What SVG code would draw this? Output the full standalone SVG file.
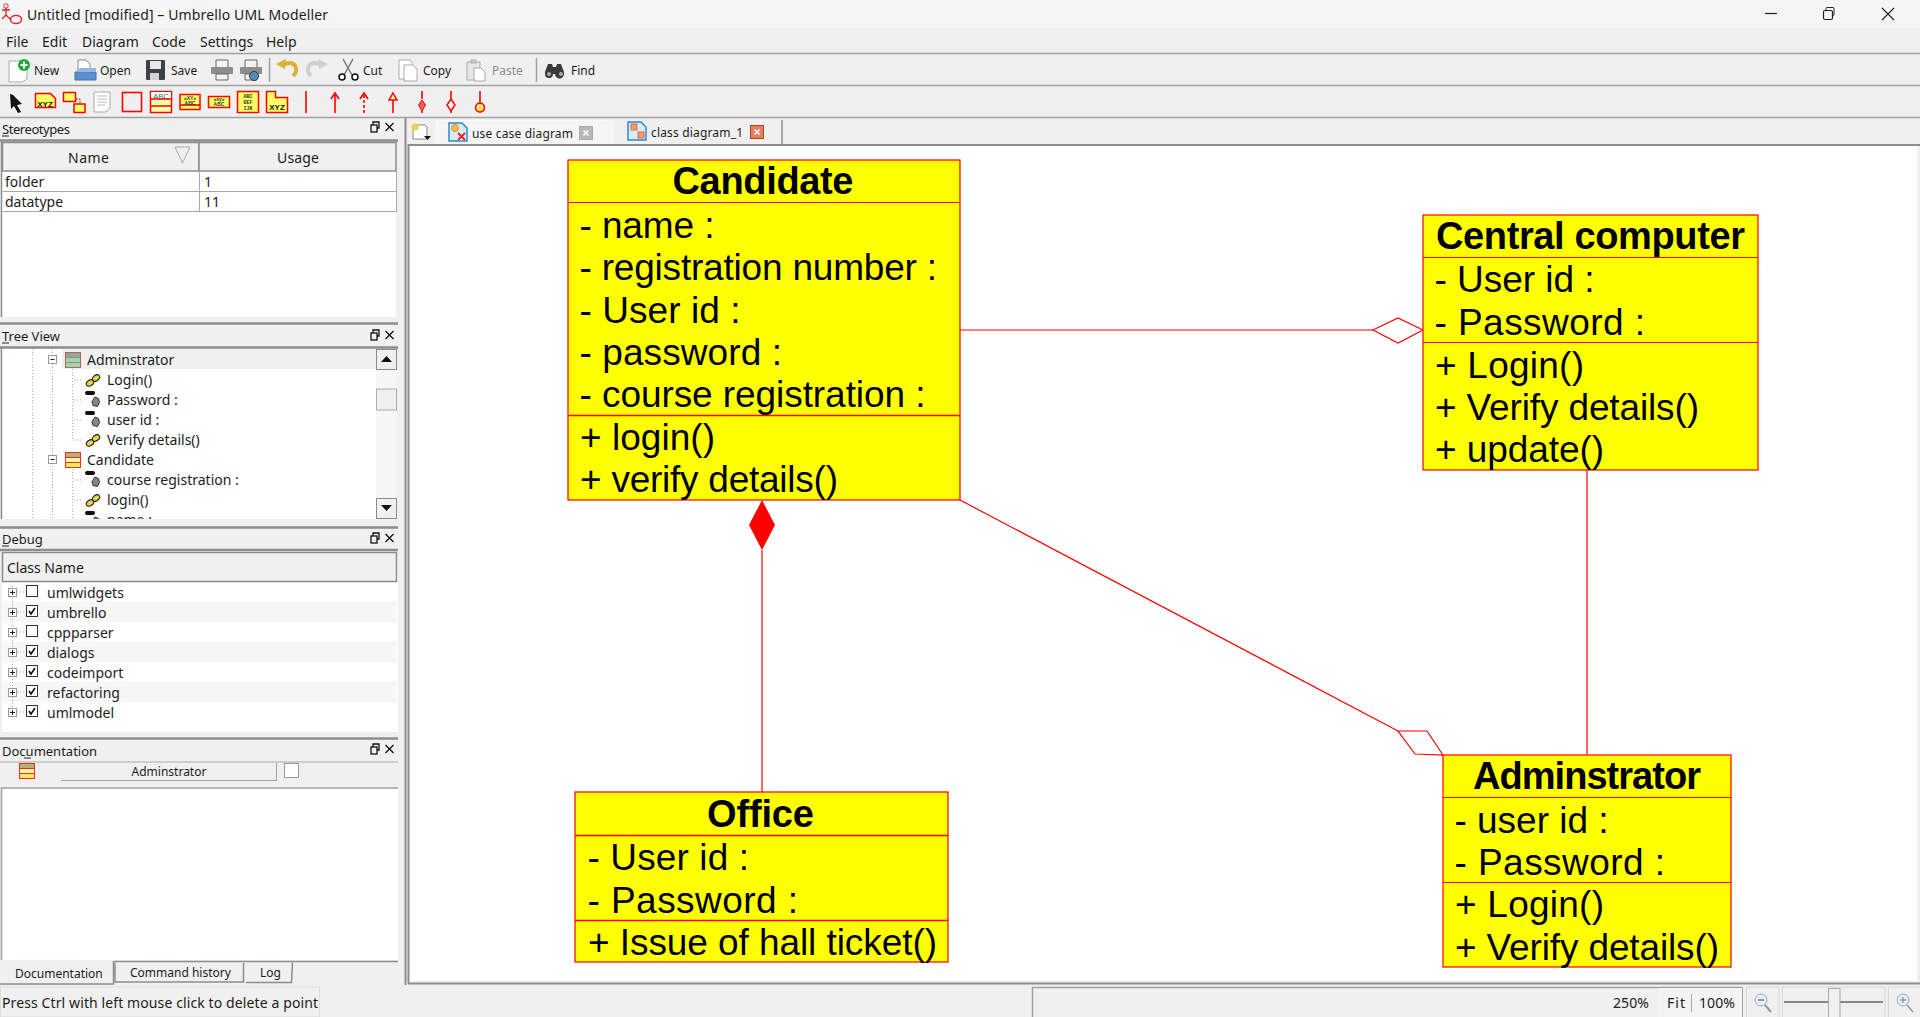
<svg xmlns="http://www.w3.org/2000/svg" width="1920" height="1017" viewBox="0 0 1920 1017">
<style>
text{font-family:"Noto Sans","Open Sans",sans-serif;fill:#1c1c1c;font-size:14px}
.tb{font-size:12px}
.pt{font-size:13px}
.sep{stroke:#a0a0a0;stroke-width:1.5;fill:none}
.thick{stroke:#8c8c8c;stroke-width:2.5;fill:none}
.box{fill:#ffff00;stroke:#ff0000;stroke-width:1.2}
.div{stroke:#ff0000;stroke-width:1;fill:none}
.nt,.na{font-family:"Liberation Sans",Arial,sans-serif;fill:#000}
.nt{font-weight:700;font-size:38px;text-anchor:middle}
.na{font-size:37px}
.con{stroke:#ff0000;stroke-width:1.2;fill:none}
.ic{stroke:#ff0000;stroke-width:1.5;fill:#ffff66}
.r{stroke:#ff0000;stroke-width:1.6;fill:none}
.hdr{fill:#f0f0f0;stroke:#8c8c8c;stroke-width:1.5}
.dot{stroke:#a8a8a8;stroke-width:1;stroke-dasharray:1 2;fill:none}
.cb{fill:#fff;stroke:#333;stroke-width:1}
.ck{stroke:#111;stroke-width:1.6;fill:none}
.xp{fill:#fff;stroke:#9a9a9a;stroke-width:1}
.xs{stroke:#222;stroke-width:1;fill:none}
.pan{stroke:#111;stroke-width:1.3;fill:none}
.lnk{fill:#e8d840;stroke:#222;stroke-width:1.100}
.tiny{font-family:"Liberation Sans",sans-serif;font-weight:700;font-size:5px;fill:#333;text-anchor:middle}
.mono{font-family:"Liberation Mono",monospace;font-weight:700;font-size:5px;fill:#333;text-anchor:middle}
.xyz{font-family:"Liberation Sans",sans-serif;font-weight:700;font-size:8px;fill:#111;text-anchor:middle}
</style>
<defs>
<g id="op"><path d="M4.500 9.500l5-4" stroke="#222" stroke-width="1.500"/><ellipse class="lnk" cx="4" cy="9" rx="4" ry="2.800" transform="rotate(-35 4 9)"/><ellipse class="lnk" cx="10" cy="4" rx="4" ry="2.800" transform="rotate(-35 10 4)"/></g>
<g id="at"><rect x="0" y="0" width="10" height="4" rx="2" fill="#1a0808"/><path d="M10 6l3.500 1.500 1 4-2 4-4.500-1-1-4z" fill="#85858f" stroke="#333" stroke-width="1"/></g>
<g id="cl"><rect x=".5" y=".5" width="15" height="15" fill="#fff8a8" stroke="#f03020"/><rect x="1" y="1" width="14" height="4" fill="#b8b070"/><rect x="1" y="11" width="14" height="4" fill="#ffe860"/><path d="M.5 5.500h15M.5 10.500h15" stroke="#f03020"/></g>
<g id="clg"><rect x=".5" y=".5" width="15" height="15" fill="#a0d4b0" stroke="#b86060"/><rect x="1" y="1" width="14" height="4" fill="#8ea89a"/><path d="M1 5.500h14M1 10.500h14" stroke="#b86060" stroke-width=".7"/></g>
<g id="pb" class="pan"><rect x="371" y="125" width="6" height="7"/><path d="M373 125v-3h6v6h-2"/><path d="M385.500 123l8 8M393.500 123l-8 8"/></g>
</defs>
<rect width="1920" height="1017" fill="#f0f0f0"/>
<g id="window">
<rect width="1920" height="28" fill="#f5f5f5"/>
<ellipse cx="16" cy="19.500" rx="5.500" ry="4" fill="#fff" stroke="#e22" stroke-width="1.500"/>
<path d="M6 8v7M2 10h8M2 19l4-4 4 4" stroke="#d22" stroke-width="1.300" fill="none"/>
<circle cx="6" cy="6" r="2.200" fill="#fff" stroke="#d22"/>
<text x="27" y="20" textLength="301">Untitled [modified] – Umbrello UML Modeller</text>
<path d="M1765 13.500h12" stroke="#222" stroke-width="1.200"/>
<rect x="1823.500" y="10.500" width="9" height="9" rx="1.500" fill="none" stroke="#222" stroke-width="1.200"/><path d="M1826 10v-1.500q0-1 1-1h6q1 0 1 1v6q0 1-1 1h-1" fill="none" stroke="#222"/>
<path d="M1882 8l12 12M1894 8l-12 12" stroke="#222" stroke-width="1.200"/>
<text x="6" y="47">File</text><text x="42" y="47">Edit</text><text x="82" y="47">Diagram</text><text x="152" y="47">Code</text><text x="200" y="47">Settings</text><text x="266" y="47">Help</text>
<path class="sep" d="M0 53.500h1920M0 85.500h1920M0 117.500h1920"/>
</g>
<g id="toolbar-main">
<path d="M9 61h13l5 5v13l-5 3h-13z" fill="#fff" stroke="#aaa"/><circle cx="24" cy="65" r="6" fill="#22a83a"/><path d="M24 61.500v7M20.500 65h7" stroke="#fff" stroke-width="2"/>
<text class="tb" x="34" y="75">New</text>
<path d="M75 72h21v8h-21z" fill="#5b8fd0" stroke="#47709f"/><path d="M78 72v-12h8l4 4v8z" fill="#fff" stroke="#7a8aa0"/><path d="M75 72l5-4h16v4z" fill="#90b8e8"/>
<text class="tb" x="100" y="75">Open</text>
<rect x="146" y="60" width="19" height="20" rx="1" fill="#3d4148"/><rect x="150" y="61" width="11" height="8" fill="#e8e8e8"/><rect x="150" y="73" width="9" height="7" fill="#cfd2d6"/>
<text class="tb" x="171" y="75">Save</text>
<path d="M216 60h12v8h-12z" fill="#f4f4f4" stroke="#666"/><rect x="211" y="67" width="22" height="7" rx="1" fill="#8d8d8d"/><path d="M216 74h12v6h-12z" fill="#f4f4f4" stroke="#666"/>
<path d="M245 60h12v8h-12z" fill="#f4f4f4" stroke="#666"/><rect x="240" y="67" width="22" height="7" rx="1" fill="#8d8d8d"/><path d="M245 74h12v6h-12z" fill="#f4f4f4" stroke="#666"/><circle cx="254" cy="76" r="4.500" fill="#5a89b8" stroke="#334"/>
<path class="sep" d="M269.500 58v24M536.500 58v24"/>
<path d="M282 65q12-5 14 3 1 4-3 8" fill="none" stroke="#dfb030" stroke-width="4"/><path d="M276 64l10-5-1 10z" fill="#dfb030"/>
<path d="M322 65q-12-5-14 3-1 4 3 8" fill="none" stroke="#cfcfcf" stroke-width="4"/><path d="M328 64l-10-5 1 10z" fill="#cfcfcf"/>
<path d="M343 59l9 16M353 59l-9 16" stroke="#777" stroke-width="1.500" fill="none"/><circle cx="342" cy="77" r="3" fill="#fff" stroke="#111" stroke-width="1.500"/><circle cx="355" cy="77" r="3" fill="#fff" stroke="#111" stroke-width="1.500"/>
<text class="tb" x="363" y="75">Cut</text>
<path d="M399 60h11l2 2v17h-13z" fill="#fff" stroke="#aaa"/><path d="M404 65h9l4 4v12h-13z" fill="#fff" stroke="#aaa"/>
<text class="tb" x="423" y="75">Copy</text>
<path d="M467 62h13v18h-13z" fill="#e8e8e8" stroke="#aaa"/><path d="M471 60h5v3h-5z" fill="#ccc" stroke="#aaa"/><path d="M474 68h7l4 4v9h-11z" fill="#fff" stroke="#aaa"/>
<text class="tb" x="492" y="75" style="fill:#8c8c8c">Paste</text>
<path d="M545 72l3-8h4l1 3h3l1-3h4l3 8v2a4 4 0 0 1-9 0h-2a4 4 0 0 1-8 0z" fill="#3a3a3a"/><circle cx="549" cy="74" r="2" fill="#aaa"/><circle cx="561" cy="74" r="2" fill="#aaa"/>
<text class="tb" x="571" y="75">Find</text>
</g>
<g id="toolbar-diagram">
<path d="M10 94l3 1 9 9-5 1 4 7-3 1-4-7-3 3z" fill="#111"/>
<path d="M35.500 93.500h15l5 5v9h-20z" class="ic"/><text class="xyz" x="45" y="107">XYZ</text>
<rect x="63.500" y="92.500" width="12" height="9" class="ic"/><rect x="74" y="104" width="11" height="8.500" class="ic"/><path d="M76 99h4v5" stroke="#f00" stroke-dasharray="2 1" fill="none"/>
<path d="M94 92h16v16l-4 4h-12z" fill="#fff" stroke="#aaa"/><path d="M97 96h10M97 99h10M97 102h10M97 105h8" stroke="#bbb"/>
<rect x="122.500" y="92.500" width="19" height="19" fill="#fff" class="r"/>
<rect x="150.500" y="91.500" width="21" height="21" fill="#ffffa8" stroke="#f00" stroke-width="1.500"/><rect x="151" y="92" width="20" height="7" fill="#fff"/><path class="r" d="M150 99h22M150 106h22"/><text x="161" y="98.500" text-anchor="middle" style="font:7.500px 'Liberation Sans',sans-serif;fill:#555">ABC</text>
<rect x="180" y="94.500" width="20" height="15" class="ic"/><path class="r" d="M180 105h20"/><rect x="208.500" y="96.500" width="21" height="11" class="ic"/>
<text class="tiny" x="190" y="99.500">«XY»</text><text class="tiny" x="190" y="104.500">ABC</text>
<text class="tiny" x="219" y="106">ABC</text><text class="tiny" x="219" y="101">«xy»</text>
<rect x="237.500" y="91.500" width="21" height="21" class="ic"/><text class="mono" x="248" y="98">ABC</text><text class="mono" x="248" y="104">DEF</text><text class="mono" x="248" y="110">IJK</text>
<path class="ic" d="M266.500 97.500v-6h9v6h12v15h-21z"/><text class="xyz" x="277" y="110">XYZ</text>
<path class="r" d="M306 91v22"/>
<path class="r" d="M335 113v-20M331 99l4-6 4 6"/>
<path class="r" d="M364 113v-20" stroke-dasharray="3 2"/><path class="r" d="M360 99l4-6 4 6"/>
<path class="r" d="M393 113v-14"/><path d="M393 93l4 7h-8z" fill="#fff59a" stroke="#f00" stroke-width="1.500"/>
<path d="M422 91v8M422 110v3" class="r"/><path d="M422 100l3.500 5-3.500 6-3.500-6z" fill="#ff5a5a" stroke="#f00"/>
<path d="M451 91v8M451 110v3" class="r"/><path d="M451 99l4 6-4 6-4-6z" fill="#fff" stroke="#f00" stroke-width="1.500"/>
<path class="r" d="M480 91v12"/><circle cx="480" cy="107.500" r="4.500" fill="#ffdf60" stroke="#f00" stroke-width="1.500"/>
</g>
<g id="panel-stereotypes">
<text class="pt" x="2" y="134" textLength="68">Stereotypes</text><path d="M2 136h7" stroke="#222"/>
<rect x="2" y="141" width="394" height="176" fill="#fff"/>
<path class="thick" d="M0 140.500h398"/>
<rect x="2.500" y="142.500" width="196.500" height="28.500" class="hdr"/><rect x="199" y="142.500" width="197" height="28.500" class="hdr"/>
<path d="M175 147h15l-7.500 16z" fill="none" stroke="#a8a8a8"/>
<text x="88.500" y="163" text-anchor="middle" textLength="41">Name</text><text x="298" y="163" text-anchor="middle" textLength="42">Usage</text>
<path d="M2.500 191.500h394M2.500 211.500h394M199.500 171v41M396.500 171v41" stroke="#a8a8a8" fill="none"/>
<path d="M1.500 141v176" stroke="#8c8c8c" stroke-width="1.500"/>
<text x="5" y="187">folder</text><text x="204" y="187">1</text><text x="5" y="207">datatype</text><text x="204" y="207">11</text>
<path class="thick" d="M0 323.500h398"/>
</g>
<g id="panel-tree">
<text class="pt" x="2" y="341" textLength="58">Tree View</text><path d="M2 343h7" stroke="#222"/>
<rect x="2" y="348" width="374" height="171" fill="#fff"/>
<path class="thick" d="M0 347.500h398"/>
<path d="M1.500 348v171" stroke="#8c8c8c" stroke-width="1.500"/>
<rect x="62" y="349" width="314" height="20" fill="#f0f0f0"/>
<path class="dot" d="M32.500 349v170M52.500 349v170M72.500 369v72M72.500 469v50M74 380h9M74 400h9M74 420h9M74 440h9M74 480h9M74 500h9"/>
<rect x="48.500" y="355.500" width="8" height="8" class="xp"/><path class="xs" d="M50.500 359.500h4"/>
<rect x="48.500" y="455.500" width="8" height="8" class="xp"/><path class="xs" d="M50.500 459.500h4"/>
<use href="#clg" x="65" y="352"/>
<use href="#cl" x="65" y="452"/>
<use href="#op" x="86" y="374"/><use href="#at" x="85" y="391"/><use href="#at" x="85" y="411"/><use href="#op" x="86" y="434"/>
<use href="#at" x="85" y="471"/><use href="#op" x="86" y="494"/>
<text x="87" y="365">Adminstrator</text><text x="107" y="385">Login()</text><text x="107" y="405">Password :</text><text x="107" y="425">user id :</text><text x="107" y="445">Verify details()</text><text x="87" y="465">Candidate</text><text x="107" y="485">course registration :</text><text x="107" y="505">login()</text>
<text x="107" y="525">name :</text>
<use href="#at" x="85" y="511"/>
<rect x="0" y="519" width="398" height="8" fill="#f0f0f0"/>
<rect x="376" y="349" width="21" height="170" fill="#f6f6f6"/>
<rect x="376.500" y="349.500" width="20" height="20" fill="#f0f0f0" stroke="#8c8c8c"/><path d="M381 362h11l-5.500-6z" fill="#111"/>
<rect x="376.500" y="389" width="20" height="21" fill="#f0f0f0" stroke="#aaa"/>
<rect x="376.500" y="498.500" width="20" height="20" fill="#f0f0f0" stroke="#8c8c8c"/><path d="M381 505h11l-5.500 6z" fill="#111"/>
<path class="thick" d="M0 527.500h398"/>
</g>
<g id="panel-debug">
<text class="pt" x="2" y="544">Debug</text><path d="M2 546h7" stroke="#222"/>
<rect x="2" y="551" width="396" height="181" fill="#fff"/>
<path class="thick" d="M0 550h398"/>
<rect x="2.500" y="552.500" width="394" height="29" class="hdr"/>
<text x="7" y="573">Class Name</text>
<rect x="2" y="602" width="394" height="20" fill="#f7f7f7"/><rect x="2" y="642" width="394" height="20" fill="#f7f7f7"/><rect x="2" y="682" width="394" height="20" fill="#f7f7f7"/>
<path class="dot" d="M12.500 586v130M17 592h8M17 612h8M17 632h8M17 652h8M17 672h8M17 692h8M17 712h8"/>
<rect x="8.500" y="588.500" width="8" height="8" class="xp"/><rect x="8.500" y="608.500" width="8" height="8" class="xp"/><rect x="8.500" y="628.500" width="8" height="8" class="xp"/><rect x="8.500" y="648.500" width="8" height="8" class="xp"/><rect x="8.500" y="668.500" width="8" height="8" class="xp"/><rect x="8.500" y="688.500" width="8" height="8" class="xp"/><rect x="8.500" y="708.500" width="8" height="8" class="xp"/>
<path class="xs" d="M10 592.500h5M12.500 590v5M10 612.500h5M12.500 610v5M10 632.500h5M12.500 630v5M10 652.500h5M12.500 650v5M10 672.500h5M12.500 670v5M10 692.500h5M12.500 690v5M10 712.500h5M12.500 710v5"/>
<rect x="26.500" y="585.500" width="11" height="11" class="cb"/><rect x="26.500" y="605.500" width="11" height="11" class="cb"/><rect x="26.500" y="625.500" width="11" height="11" class="cb"/><rect x="26.500" y="645.500" width="11" height="11" class="cb"/><rect x="26.500" y="665.500" width="11" height="11" class="cb"/><rect x="26.500" y="685.500" width="11" height="11" class="cb"/><rect x="26.500" y="705.500" width="11" height="11" class="cb"/>
<path class="ck" d="M29 611l2 3 4-6M29 651l2 3 4-6M29 671l2 3 4-6M29 691l2 3 4-6M29 711l2 3 4-6"/>
<text x="47" y="598">umlwidgets</text><text x="47" y="618">umbrello</text><text x="47" y="638">cppparser</text><text x="47" y="658">dialogs</text><text x="47" y="678">codeimport</text><text x="47" y="698">refactoring</text><text x="47" y="718">umlmodel</text>
<path class="thick" d="M0 738.500h398"/>
</g>
<g id="panel-documentation">
<text class="pt" x="2" y="756">Documentation</text><path d="M24 758h7" stroke="#222"/>
<path d="M0 762h398" stroke="#aaa"/>
<use href="#cl" x="19" y="763"/>
<path d="M61 780.500h216M276.500 763v18" stroke="#a0a0a0" fill="none"/>
<text x="169" y="776" text-anchor="middle" class="tb">Adminstrator</text>
<rect x="284.500" y="763.500" width="14" height="14" fill="#fff" stroke="#999"/>
<rect x="2" y="788" width="396" height="172" fill="#fff"/>
<path class="sep" d="M1.500 788v172M1 788h397"/>
<path d="M114 961.500h284" stroke="#8c8c8c" stroke-width="1.500"/>
<path d="M0 984h113.500v-23" stroke="#8c8c8c" stroke-width="1.500" fill="none"/>
<path d="M115 963v19h128.500v-19M246 982.500h45.500l1-20" stroke="#8c8c8c" stroke-width="1.500" fill="none"/>
<text class="tb" x="15" y="978">Documentation</text><text class="tb" x="130" y="977">Command history</text><text class="tb" x="260" y="977">Log</text>
</g>
<g id="panel-buttons">
<use href="#pb"/><use href="#pb" y="208"/><use href="#pb" y="411"/><use href="#pb" y="622"/>
</g>
<g id="tabs">
<path d="M405.500 118v867" stroke="#8c8c8c" stroke-width="2"/>
<rect x="436.500" y="120.500" width="175.500" height="24" fill="#f5f5f5" stroke="#fafafa"/>
<path d="M782 120v24" stroke="#8c8c8c" stroke-width="1.500"/>
<path d="M413 125h12l2 2v12h-14z" fill="#fff" stroke="#888"/><circle cx="415" cy="127" r="3.500" fill="#f0d040"/><path d="M424 136h7l-3.500 4z" fill="#111"/>
<path d="M449 123h13l5 5v13h-18z" fill="#d8ecf8" stroke="#2a8bd0" stroke-width="1.500"/><circle cx="455" cy="128" r="3.500" fill="#f0c040" stroke="#e84"/><path d="M458 133l7 7M465 133l-7 7" stroke="#e22" stroke-width="1.800"/>
<text class="tb" x="472" y="138" textLength="101">use case diagram</text>
<rect x="579.500" y="126.500" width="13" height="13" fill="#b8b8b8" stroke="#aaa"/><path d="M583.500 130.500l5 5M588.500 130.500l-5 5" stroke="#fff" stroke-width="1.500"/>
<path d="M628 122h13l5 5v13h-18z" fill="#d8ecf8" stroke="#2a8bd0" stroke-width="1.500"/><rect x="631" y="124" width="6" height="6" fill="#f0a060" stroke="#d66"/><rect x="638" y="132" width="6" height="6" fill="#f0a060" stroke="#d66"/>
<text class="tb" x="651" y="137" textLength="92">class diagram_1</text>
<rect x="750.500" y="125.500" width="13" height="13" fill="#e08060" stroke="#c04020"/><path d="M754.500 129.500l5 5M759.500 129.500l-5 5" stroke="#fff" stroke-width="1.500"/>
</g>
<g id="canvas">
<rect x="409" y="146" width="1508" height="837" fill="#fff"/>
<path d="M408.500 983.500v-838.500h1511.500M408 983.500h1512" stroke="#8c8c8c" stroke-width="2" fill="none"/>
<path d="M409 981.500h1508" stroke="#e8e8e8"/>
</g>
<g id="connectors">
<path class="con" d="M960 330H1373"/>
<path class="con" d="M1373 330L1398 318L1423 330L1398 343Z" fill="#fff"/>
<path class="con" d="M1587 470V755"/>
<path class="con" d="M762 550V792"/>
<path d="M762 500L775 525L762 550L749 525Z" fill="#ff0000"/>
<path class="con" d="M960 500L1398 731"/>
<path class="con" d="M1398 731L1427 731L1443 755L1415 754Z"/>
</g>
<g id="node-candidate">
<rect class="box" x="568" y="160" width="392" height="340"/>
<path class="div" d="M568 202.500h392"/><path class="div" d="M568 415.500h392" style="stroke-width:1.500"/>
<text class="nt" x="763" y="194" textLength="181">Candidate</text>
<text class="na" x="579.500" y="237.500" textLength="135">- name :</text><text class="na" x="579.500" y="280" textLength="357.500">- registration number :</text><text class="na" x="579.500" y="323" textLength="161">- User id :</text><text class="na" x="579.500" y="365" textLength="202.500">- password :</text><text class="na" x="579.500" y="407" textLength="346">- course registration :</text>
<text class="na" x="580" y="450" textLength="135">+ login()</text><text class="na" x="580" y="492" textLength="258">+ verify details()</text>
</g>
<g id="node-central-computer">
<rect class="box" x="1423" y="215" width="335" height="255"/>
<path class="div" d="M1423 257.500h335M1423 342.500h335"/>
<text class="nt" x="1590.500" y="249" textLength="309">Central computer</text>
<text class="na" x="1434.500" y="292" textLength="160">- User id :</text><text class="na" x="1434.500" y="335" textLength="210.500">- Password :</text><text class="na" x="1435" y="378" textLength="149">+ Login()</text><text class="na" x="1435" y="420" textLength="264">+ Verify details()</text><text class="na" x="1435" y="462" textLength="169">+ update()</text>
</g>
<g id="node-office">
<rect class="box" x="575" y="792" width="373" height="170"/>
<path class="div" d="M575 835.500h373M575 920.500h373" style="stroke-width:1.500"/>
<text class="nt" x="760.500" y="827" textLength="107">Office</text>
<text class="na" x="587.500" y="870" textLength="161.500">- User id :</text><text class="na" x="587.500" y="913" textLength="210.500">- Password :</text><text class="na" x="588" y="954.500" textLength="349">+ Issue of hall ticket()</text>
</g>
<g id="node-adminstrator">
<rect class="box" x="1443" y="755" width="288" height="212"/>
<path class="div" d="M1443 797.500h288M1443 882.500h288"/>
<text class="nt" x="1587" y="789" textLength="228">Adminstrator</text>
<text class="na" x="1454.500" y="832.500" textLength="154">- user id :</text><text class="na" x="1454.500" y="875" textLength="210.500">- Password :</text><text class="na" x="1455" y="917" textLength="149">+ Login()</text><text class="na" x="1455" y="960" textLength="264">+ Verify details()</text>
</g>
<g id="statusbar">
<rect x="0.500" y="987" width="319" height="30" fill="#f0f0f0" stroke="#dcdcdc"/>
<text x="2" y="1008" textLength="316">Press Ctrl with left mouse click to delete a point</text>
<path d="M1032.500 1017v-29.500h710" stroke="#a0a0a0" stroke-width="1.500" fill="none"/>
<path d="M1742.500 988v29" stroke="#a0a0a0"/>
<text x="1613" y="1008" textLength="36">250%</text>
<rect x="1659" y="988" width="83" height="29" fill="#f3f3f3"/><path d="M1691.500 994v18" stroke="#aaa"/>
<text x="1667" y="1008" textLength="18">Fit</text><text x="1699" y="1008" textLength="36">100%</text>
<path d="M1746.500 1017v-30h32.500v30M1782.500 1017v-30h102.500v30M1888.500 1017v-30h31" stroke="#d8d8d8" fill="none"/>
<circle cx="1761" cy="1000" r="6" fill="#e8eef4" stroke="#9ab"/><path d="M1758 1000h6M1765 1005l6 7" stroke="#8a9aa8" stroke-width="2"/>
<path d="M1784 1002h99" stroke="#888" stroke-width="2"/><rect x="1828.500" y="988.500" width="11.500" height="29" fill="#f0f0f0" stroke="#aaa"/>
<circle cx="1903" cy="1000" r="6" fill="#e8eef4" stroke="#9ab"/><path d="M1900 1000h6M1903 997v6M1907 1005l6 7" stroke="#8a9aa8" stroke-width="1.500"/>
</g>
</svg>
